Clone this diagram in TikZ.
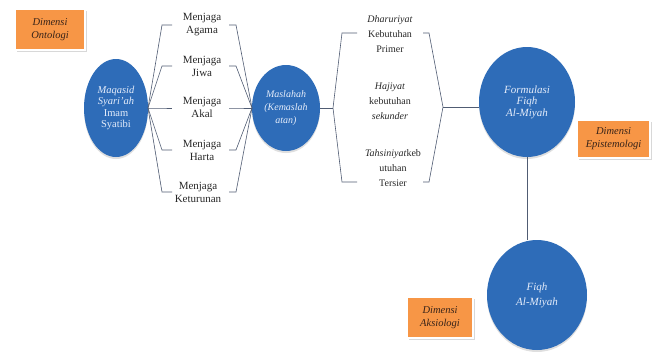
\documentclass[tikz,border=0pt]{standalone}
\usepackage{fontspec}
\setmainfont{Liberation Serif}
\usetikzlibrary{shapes.geometric,shadows}
\definecolor{cblue}{RGB}{46,108,184}
\definecolor{corange}{RGB}{247,150,70}
\definecolor{cline}{RGB}{80,92,115}
\definecolor{ctext}{RGB}{40,40,40}
\definecolor{cboxtext}{RGB}{55,35,25}
\definecolor{cwhite}{RGB}{228,236,250}
\begin{document}
\begin{tikzpicture}[x=1pt,y=-1pt,
  bubble/.style={ellipse, inner sep=0pt, outer sep=0pt, fill=cblue, draw=none,
    text=cwhite, align=center, font=\fontsize{10.5}{11.5}\selectfont\itshape,
    drop shadow={opacity=0.25, shadow xshift=0pt, shadow yshift=-2pt}},
  dimbox/.style={rectangle, fill=corange, draw=white, line width=1.5pt, align=center,
    font=\fontsize{10.5}{13}\selectfont\itshape, text=cboxtext, inner sep=0pt,
    drop shadow={opacity=0.3, shadow xshift=1.5pt, shadow yshift=-1.5pt}},
  lbl/.style={align=center, text=ctext, inner sep=0pt},
  conn/.style={draw=cline, line width=0.6pt}]
\fill[white] (0,0) rectangle (655,351);
\useasboundingbox (0,0) rectangle (655,351);

% circles
\node[bubble, minimum width=64pt, minimum height=98pt] (Q) at (116,108)
  {Maqasid\\Syari’ah\\{\upshape Imam}\\{\upshape Syatibi}};
\node[bubble, minimum width=68pt, minimum height=86pt, font=\fontsize{10}{13}\selectfont\itshape] (M) at (286,108)
  {Maslahah\\(Kemaslah\\atan)};
\node[bubble, minimum width=96pt, minimum height=110pt, font=\fontsize{11}{11.5}\selectfont\itshape] (F) at (527,102)
  {Formulasi\\Fiqh\\Al-Miyah};
\node[bubble, minimum width=100pt, minimum height=110pt, font=\fontsize{11}{15}\selectfont\itshape] (H) at (537,295)
  {Fiqh\\Al-Miyah};

% Menjaga labels
\begin{scope}[every node/.style={lbl, font=\fontsize{11}{13}\selectfont}]
\node (m1) at (202,24.5) {Menjaga\\Agama};
\node (m2) at (202,66) {Menjaga\\Jiwa};
\node (m3) at (202,107) {Menjaga\\Akal};
\node (m4) at (202,150) {Menjaga\\Harta};
\node (m5) at (198,192) {Menjaga\\Keturunan};
\end{scope}

% Kebutuhan labels
\begin{scope}[every node/.style={lbl, font=\fontsize{10}{15}\selectfont}]
\node (d1) at (390,34) {\textit{Dharuriyat}\\Kebutuhan\\Primer};
\node (d2) at (390,101) {\textit{Hajiyat}\\kebutuhan\\\textit{sekunder}};
\node (d3) at (393,168) {\textit{Tahsiniyat}keb\\utuhan\\Tersier};
\end{scope}

% fan brackets between Q and M
\foreach \y in {25,66,108,150,192} {
  \coordinate (la) at (162,\y);
  \coordinate (lb) at (172,\y);
  \coordinate (ra) at (229,\y);
  \coordinate (rb) at (236,\y);
  \draw[conn] (Q.east) -- (la) -- (lb);
  \draw[conn] (ra) -- (rb) -- (M.west);
}

% bracket between M and F
\coordinate (lv) at (333,108);
\coordinate (lt1) at (342,33);
\coordinate (lt2) at (357,33);
\coordinate (lb1) at (342,182);
\coordinate (lb2) at (357,182);
\draw[conn] (M.east) -- (lv);
\draw[conn] (lt2) -- (lt1) -- (lv) -- (lb1) -- (lb2);
\coordinate (rv) at (443,107);
\coordinate (rt1) at (429,33);
\coordinate (rt2) at (423,33);
\coordinate (rb1) at (429,182);
\coordinate (rb2) at (423,182);
\draw[conn] (rt2) -- (rt1) -- (rv) -- (rb1) -- (rb2);
\draw[conn] (rv) -- (F.west |- rv);

% F to H
\draw[conn] (F.south) -- (F.south |- H.north);

% dimension boxes
\node[dimbox, minimum width=70pt, minimum height=41pt] (O) at (50,29.5) {Dimensi\\Ontologi};
\node[dimbox, minimum width=73pt, minimum height=38pt] (E) at (613.5,139) {Dimensi\\Epistemologi};
\node[dimbox, minimum width=66pt, minimum height=41pt] (A) at (440,317.5) {Dimensi\\Aksiologi};
\end{tikzpicture}
\end{document}
